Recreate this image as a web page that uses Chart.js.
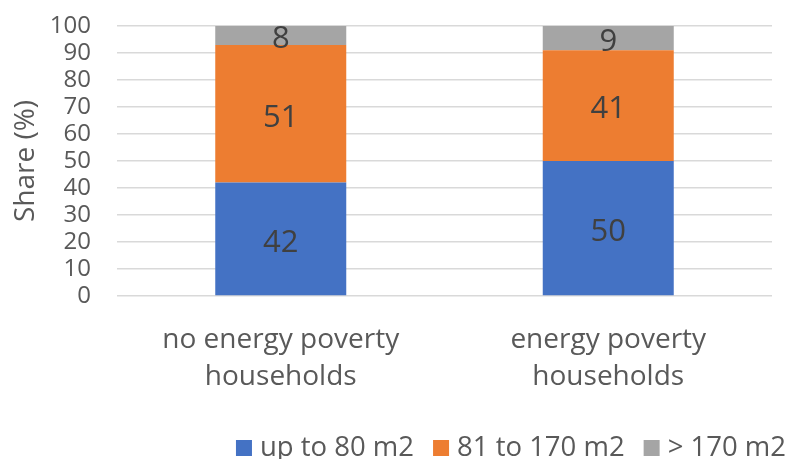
<!DOCTYPE html>
<html>
<head>
<meta charset="utf-8">
<script src="https://cdn.jsdelivr.net/npm/chart.js@4/dist/chart.umd.min.js"></script>
<style>
  html, body { margin: 0; padding: 0; background: #fff; }
  #wrap { width: 787px; height: 459px; position: relative; }
</style>
</head>
<body>
<div id="wrap"><canvas id="c" width="787" height="459"></canvas></div>
<script>
// Household groups on the x axis
const categories = [
  ['no energy poverty', 'households'],
  ['energy poverty', 'households']
];
// Dwelling size shares (%)
const upTo80 = [42, 50];
const from81to170 = [51, 41];
const over170 = [8, 9];
const seriesNames = ['up to 80 m2', '81 to 170 m2', '> 170 m2'];
const yTicks = [0, 10, 20, 30, 40, 50, 60, 70, 80, 90, 100];

const FONT = '"Open Sans", "Noto Sans", sans-serif';
const AXIS_COLOR = '#595959';

// Writes each segment's value in the middle of its visible part
const segmentLabels = {
  id: 'segmentLabels',
  afterDatasetsDraw(chart) {
    const { ctx, chartArea } = chart;
    ctx.save();
    ctx.font = '31px ' + FONT;
    ctx.fillStyle = '#404040';
    ctx.textAlign = 'center';
    ctx.textBaseline = 'middle';
    chart.data.datasets.forEach((ds, i) => {
      const meta = chart.getDatasetMeta(i);
      meta.data.forEach((bar, j) => {
        const top = Math.max(Math.min(bar.y, bar.base), chartArea.top);
        const bottom = Math.min(Math.max(bar.y, bar.base), chartArea.bottom);
        ctx.fillText(String(ds.data[j]), bar.x, (top + bottom) / 2 + 4);
      });
    });
    ctx.restore();
  }
};

// Single-row legend along the bottom, right aligned
const bottomLegend = {
  id: 'bottomLegend',
  afterDraw(chart) {
    const { ctx } = chart;
    const box = 16, textGap = 8, itemGap = 19, right = 786, midY = 448;
    ctx.save();
    ctx.font = '27.5px ' + FONT;
    ctx.textBaseline = 'middle';
    ctx.textAlign = 'left';
    const items = chart.data.datasets.map(ds => ({
      text: ds.label, color: ds.backgroundColor, w: ctx.measureText(ds.label).width
    }));
    const total = items.reduce((s, it) => s + box + textGap + it.w, 0) + itemGap * (items.length - 1);
    let x = right - total;
    items.forEach(it => {
      ctx.fillStyle = it.color;
      ctx.fillRect(x, midY - box / 2, box, box);
      x += box + textGap;
      ctx.fillStyle = AXIS_COLOR;
      ctx.fillText(it.text, x, midY);
      x += it.w + itemGap;
    });
    ctx.restore();
  }
};

new Chart(document.getElementById('c'), {
  type: 'bar',
  data: {
    labels: categories,
    datasets: [
      { label: seriesNames[0], data: upTo80, backgroundColor: '#4472C4' },
      { label: seriesNames[1], data: from81to170, backgroundColor: '#ED7D31' },
      { label: seriesNames[2], data: over170, backgroundColor: '#A5A5A5' }
    ]
  },
  options: {
    responsive: false,
    animation: false,
    devicePixelRatio: 1,
    layout: { padding: { top: 0, right: 15, bottom: 51, left: 0 } },
    datasets: { bar: { categoryPercentage: 1, barPercentage: 0.4 } },
    plugins: {
      legend: { display: false },
      tooltip: { enabled: false }
    },
    scales: {
      x: {
        stacked: true,
        grid: { display: false, drawTicks: false },
        border: { display: false },
        ticks: {
          color: AXIS_COLOR,
          font: { family: FONT, size: 28, lineHeight: 1.32 },
          padding: 26,
          maxRotation: 0
        },
        afterFit(scale) { scale.height = 112; }
      },
      y: {
        stacked: true,
        min: 0,
        max: 100,
        afterBuildTicks(scale) { scale.ticks = yTicks.map(v => ({ value: v })); },
        grid: { color: '#D9D9D9', lineWidth: 1.5, drawTicks: false },
        border: { display: false },
        ticks: {
          color: AXIS_COLOR,
          font: { family: FONT, size: 24 },
          padding: 26,
          autoSkip: false
        },
        title: {
          display: true,
          text: 'Share (%)',
          color: AXIS_COLOR,
          font: { family: FONT, size: 28 },
          padding: { top: 9, bottom: 0 }
        },
        afterFit(scale) {
          scale.width = 117;
          scale.paddingTop = 26;
        }
      }
    }
  },
  plugins: [segmentLabels, bottomLegend]
});
</script>
</body>
</html>
